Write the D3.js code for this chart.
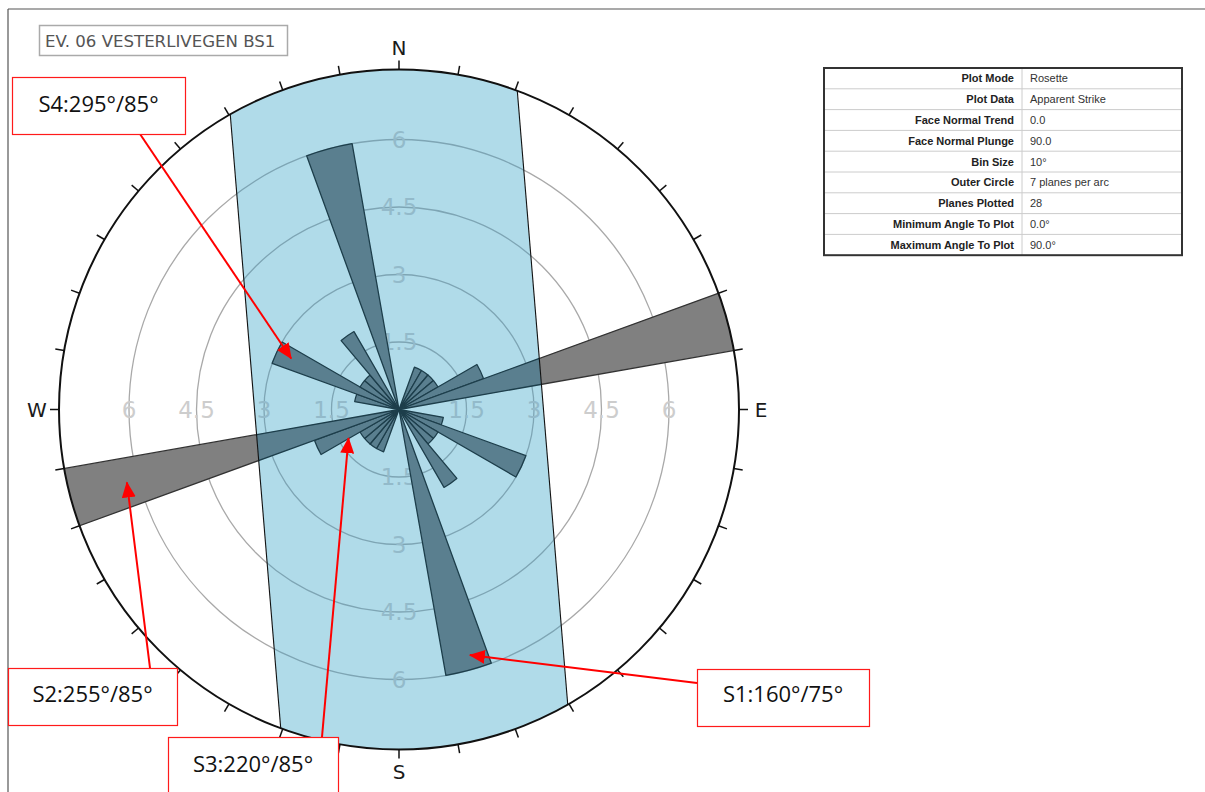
<!DOCTYPE html>
<html>
<head>
<meta charset="utf-8">
<script src="https://cdn.jsdelivr.net/npm/d3@7"></script>
<style>
  body { margin: 0; background: #fff; }
  svg { display: block; }
</style>
</head>
<body>
<svg id="chart" width="1205" height="792"></svg>
<script>
// rose bins (10 deg), number of planes in each bin, both directions
const binSize = 10;
const binStarts = [0, 10, 20, 30, 40, 50, 60, 70, 80, 90, 100, 110, 120, 130, 140, 150, 160, 170,
  180, 190, 200, 210, 220, 230, 240, 250, 260, 270, 280, 290, 300, 310, 320, 330, 340, 350];
const planeCounts = [0, 0, 1, 1, 1, 1, 2, 8, 0, 0, 1, 3, 1, 1, 2, 0, 6, 0,
  0, 0, 1, 1, 1, 1, 2, 8, 0, 0, 1, 3, 1, 1, 2, 0, 6, 0];

const ringValues = [1.5, 3, 4.5, 6];
const ringLabels = ['1.5', '3', '4.5', '6'];
const ringLabelBearings = [0, 90, 180, 270];

const compassLabels = ['N', 'E', 'S', 'W'];
const compassBearings = [0, 90, 180, 270];

const tableLabels = ['Plot Mode', 'Plot Data', 'Face Normal Trend', 'Face Normal Plunge', 'Bin Size',
  'Outer Circle', 'Planes Plotted', 'Minimum Angle To Plot', 'Maximum Angle To Plot'];
const tableValues = ['Rosette', 'Apparent Strike', '0.0', '90.0', '10°',
  '7 planes per arc', '28', '0.0°', '90.0°'];

const plotTitle = 'EV. 06 VESTERLIVEGEN BS1';

// annotations: label and the point (bearing, value) the arrow points at
const annoLabels = ['S1:160°/75°', 'S2:255°/85°', 'S3:220°/85°', 'S4:295°/85°'];
const annoBearings = [163.9, 255, 240.4, 295.3];
const annoValues = [5.68, 6.26, 1.29, 2.65];

// highlighted band (deg tilt from north, half width in units)
const bandTilt = 4.7;
const bandHalfWidth = 3.2;

// ---------- layout ----------
const svg = d3.select('#chart');
const cx = 399, cy = 409.5, R = 340;
const r = d3.scaleLinear().domain([0, 6]).range([0, 270]);
const rad = d => d * Math.PI / 180;
const pt = (b, rr) => [cx + rr * Math.sin(rad(b)), cy - rr * Math.cos(rad(b))];

const defs = svg.append('defs');
defs.append('clipPath').attr('id', 'clipCircle')
  .append('circle').attr('cx', cx).attr('cy', cy).attr('r', R);
defs.append('clipPath').attr('id', 'clipBand')
  .append('rect')
  .attr('transform', `translate(${cx},${cy}) rotate(${-bandTilt})`)
  .attr('x', -r(bandHalfWidth)).attr('y', -R - 40)
  .attr('width', 2 * r(bandHalfWidth)).attr('height', 2 * R + 80);
defs.append('marker').attr('id', 'arrow')
  .attr('markerUnits', 'userSpaceOnUse')
  .attr('viewBox', '0 0 16 14').attr('refX', 15).attr('refY', 7)
  .attr('markerWidth', 16).attr('markerHeight', 14).attr('orient', 'auto')
  .append('path').attr('d', 'M0,0 L16,7 L0,14 Z').attr('fill', '#ff0000');

// frame
svg.append('line').attr('x1', 8).attr('y1', 9).attr('x2', 1205).attr('y2', 9)
  .attr('stroke', '#555').attr('stroke-width', 1.2);
svg.append('line').attr('x1', 8).attr('y1', 9).attr('x2', 8).attr('y2', 792)
  .attr('stroke', '#555').attr('stroke-width', 1.2);

const petals = binStarts.map((b, i) => ({ start: b, value: planeCounts[i] })).filter(d => d.value > 0);
const arc = d3.arc()
  .innerRadius(0)
  .outerRadius(d => r(d.value))
  .startAngle(d => rad(d.start))
  .endAngle(d => rad(d.start + binSize));

function drawRose(g, st) {
  g.selectAll('circle.ring')
    .data(ringValues)
    .enter().append('circle')
    .attr('class', 'ring')
    .attr('cx', cx).attr('cy', cy)
    .attr('r', d => r(d))
    .attr('fill', 'none')
    .attr('stroke', st.ring).attr('stroke-width', 1.3);

  ringLabelBearings.forEach(b => {
    g.selectAll(null)
      .data(ringValues)
      .enter().append('text')
      .attr('x', d => pt(b, r(d))[0])
      .attr('y', d => pt(b, r(d))[1])
      .attr('dy', '0.36em')
      .attr('text-anchor', 'middle')
      .attr('font-family', 'DejaVu Sans, sans-serif')
      .attr('font-size', '23px')
      .attr('fill', st.label)
      .text((d, i) => ringLabels[i]);
  });

  g.append('g').attr('clip-path', 'url(#clipCircle)')
    .selectAll('path')
    .data(petals)
    .enter().append('path')
    .attr('transform', `translate(${cx},${cy})`)
    .attr('d', arc)
    .attr('fill', st.petal)
    .attr('stroke', st.edge).attr('stroke-width', 1.3)
    .attr('stroke-linejoin', 'round');
}

// outside the band
drawRose(svg.append('g'), { ring: '#a9a9a9', label: '#cdcdcd', petal: '#808080', edge: '#333' });

// band fill
const bandG = svg.append('g').attr('clip-path', 'url(#clipCircle)');
bandG.append('rect')
  .attr('transform', `translate(${cx},${cy}) rotate(${-bandTilt})`)
  .attr('x', -r(bandHalfWidth)).attr('y', -R - 40)
  .attr('width', 2 * r(bandHalfWidth)).attr('height', 2 * R + 80)
  .attr('fill', '#b0dbe9');

// inside the band
const inside = bandG.append('g').attr('clip-path', 'url(#clipBand)');
drawRose(inside, { ring: '#7ea5b4', label: '#93bacA', petal: '#5a7f8f', edge: '#1d3e4b' });

// band edges
[-1, 1].forEach(s => {
  bandG.append('line')
    .attr('transform', `translate(${cx},${cy}) rotate(${-bandTilt})`)
    .attr('x1', s * r(bandHalfWidth)).attr('x2', s * r(bandHalfWidth))
    .attr('y1', -R - 40).attr('y2', R + 40)
    .attr('stroke', '#111').attr('stroke-width', 1.1);
});

// outer circle + ticks
svg.append('circle').attr('cx', cx).attr('cy', cy).attr('r', R)
  .attr('fill', 'none').attr('stroke', '#111').attr('stroke-width', 2);
svg.selectAll('line.tick')
  .data(d3.range(0, 360, 10))
  .enter().append('line')
  .attr('class', 'tick')
  .attr('x1', d => pt(d, R)[0]).attr('y1', d => pt(d, R)[1])
  .attr('x2', d => pt(d, R + 9)[0]).attr('y2', d => pt(d, R + 9)[1])
  .attr('stroke', '#111').attr('stroke-width', 1.5);
svg.selectAll('text.compass')
  .data(compassLabels)
  .enter().append('text')
  .attr('class', 'compass')
  .attr('x', (d, i) => pt(compassBearings[i], 362)[0])
  .attr('y', (d, i) => pt(compassBearings[i], 362)[1])
  .attr('dy', '0.36em')
  .attr('text-anchor', 'middle')
  .attr('font-family', 'DejaVu Sans, sans-serif')
  .attr('font-size', '20px')
  .attr('fill', '#1a1a1a')
  .text(d => d);

// title box
svg.append('rect').attr('x', 39.5).attr('y', 25.5).attr('width', 248).attr('height', 30)
  .attr('fill', '#fff').attr('stroke', '#aaa').attr('stroke-width', 1.5);
svg.append('text').attr('x', 45).attr('y', 47)
  .attr('font-family', 'DejaVu Sans, sans-serif').attr('font-size', '16.6px')
  .attr('fill', '#555')
  .text(plotTitle);

// info table
const tx = 824, ty = 68, tw = 358, rowH = 20.8, splitX = 1022;
const table = svg.append('g');
tableLabels.forEach((lab, i) => {
  const y = ty + i * rowH;
  if (i > 0) {
    table.append('line').attr('x1', tx).attr('x2', tx + tw).attr('y1', y).attr('y2', y)
      .attr('stroke', '#ccc').attr('stroke-width', 1);
  }
  table.append('text').attr('x', splitX - 8).attr('y', y + rowH / 2 + 4)
    .attr('text-anchor', 'end')
    .attr('font-family', 'Liberation Sans, Arial, sans-serif').attr('font-size', '11px')
    .attr('font-weight', 'bold').attr('fill', '#222')
    .text(lab);
  table.append('text').attr('x', splitX + 8).attr('y', y + rowH / 2 + 4)
    .attr('font-family', 'Liberation Sans, Arial, sans-serif').attr('font-size', '11px')
    .attr('fill', '#333')
    .text(tableValues[i]);
});
table.append('line').attr('x1', splitX).attr('x2', splitX).attr('y1', ty).attr('y2', ty + rowH * 9)
  .attr('stroke', '#ccc').attr('stroke-width', 1);
table.append('rect').attr('x', tx).attr('y', ty).attr('width', tw).attr('height', rowH * 9)
  .attr('fill', 'none').attr('stroke', '#333').attr('stroke-width', 2);

// annotation boxes (layout)
const annoBoxes = [
  { x: 697, y: 669, w: 172, h: 57, sx: 697, sy: 683, ty: 702 },
  { x: 8, y: 668, w: 169, h: 57, sx: 150, sy: 668, ty: 702 },
  { x: 168, y: 737, w: 170, h: 70, sx: 322, sy: 737, ty: 772 },
  { x: 12, y: 77, w: 173, h: 57, sx: 140, sy: 134, ty: 112 }
];
annoLabels.forEach((lab, i) => {
  const b = annoBoxes[i];
  const [px, py] = pt(annoBearings[i], r(annoValues[i]));
  svg.append('line').attr('x1', b.sx).attr('y1', b.sy).attr('x2', px).attr('y2', py)
    .attr('stroke', '#ff0000').attr('stroke-width', 2).attr('marker-end', 'url(#arrow)');
  svg.append('rect').attr('x', b.x + 0.5).attr('y', b.y + 0.5).attr('width', b.w).attr('height', b.h)
    .attr('fill', '#fff').attr('stroke', '#ff1a1a').attr('stroke-width', 1.2);
  svg.append('text').attr('x', b.x + b.w / 2).attr('y', b.ty)
    .attr('text-anchor', 'middle')
    .attr('font-family', 'Open Sans, sans-serif').attr('font-size', '22px')
    .attr('fill', '#111')
    .text(lab);
});
</script>
</body>
</html>
